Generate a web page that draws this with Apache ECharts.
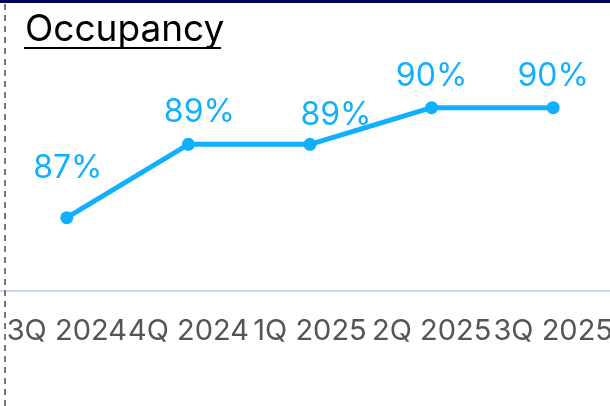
<!DOCTYPE html>
<html>
<head>
<meta charset="utf-8">
<style>
html,body{margin:0;padding:0;background:#fff;}
#chart{width:610px;height:406px;}
</style>
<script src="https://cdn.jsdelivr.net/npm/echarts@6/dist/echarts.min.js"></script>
</head>
<body>
<div id="chart"></div>
<script>
const titleText = 'Occupancy';
const categories = ['3Q 2024', '4Q 2024', '1Q 2025', '2Q 2025', '3Q 2025'];
const occupancy = [87, 89, 89, 90, 90];

const FONT = 'Inter, "Liberation Sans", sans-serif';
// label nudges reproducing the reference's label collision avoidance
const labelNudge = [[1, -18], [11, 0], [26, 3], [0, 0], [0, 0]];

const chart = echarts.init(document.getElementById('chart'), null, {renderer: 'canvas'});
chart.setOption({
  animation: false,
  backgroundColor: '#ffffff',
  title: {
    text: titleText,
    left: 20,
    top: 6,
    textStyle: {fontFamily: FONT, fontSize: 37, fontWeight: 'normal', color: '#000000'}
  },
  grid: {left: 6, width: 608, top: 71, bottom: 115, containLabel: false, outerBoundsMode: 'none'},
  xAxis: {
    type: 'category',
    data: categories,
    boundaryGap: true,
    axisLine: {show: true, lineStyle: {color: '#cad6ff', width: 2}},
    axisTick: {show: false},
    splitLine: {show: false},
    axisLabel: {
      interval: 0,
      hideOverlap: false,
      margin: 26,
      fontFamily: FONT,
      fontSize: 29,
      color: '#555555'
    }
  },
  yAxis: {
    type: 'value',
    show: false,
    min: 85,
    max: 91,
    splitLine: {show: false}
  },
  series: [{
    type: 'line',
    data: occupancy,
    symbol: 'circle',
    symbolSize: 13,
    lineStyle: {color: '#10b0ff', width: 5},
    itemStyle: {color: '#10b0ff'},
    label: {
      show: true,
      position: 'top',
      distance: 9,
      formatter: p => Math.round(p.value) + '%',
      fontFamily: FONT,
      fontSize: 32,
      color: '#10b0ff'
    },
    labelLayout: p => ({dx: labelNudge[p.dataIndex][0], dy: labelNudge[p.dataIndex][1]})
  }],
  graphic: [
    {type: 'rect', left: 0, top: 0, shape: {width: 610, height: 3}, style: {fill: '#000060'}, z: 10},
    {type: 'line', shape: {x1: 5, y1: 4, x2: 5, y2: 406}, style: {stroke: '#777777', lineWidth: 2, lineDash: [6, 5]}, z: 10},
    {type: 'line', shape: {x1: 24, y1: 48, x2: 221, y2: 48}, style: {stroke: '#000000', lineWidth: 2}, z: 10},
    {type: 'line', shape: {x1: 0, y1: 291, x2: 6, y2: 291}, style: {stroke: '#cad6ff', lineWidth: 2}, z: 1}
  ]
});
</script>
</body>
</html>
